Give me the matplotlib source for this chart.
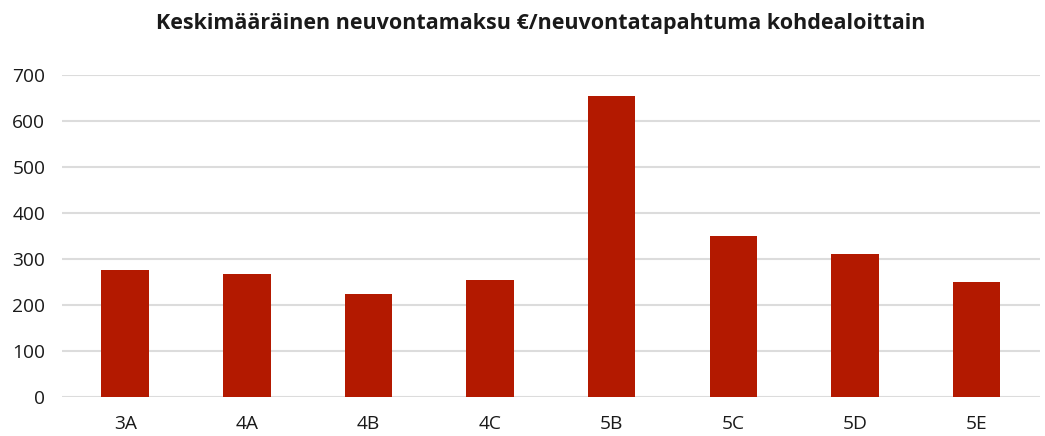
import matplotlib.pyplot as plt

# Data
categories = ["3A", "4A", "4B", "4C", "5B", "5C", "5D", "5E"]
fees = [276, 268, 225, 255, 654, 350, 311, 250]
yticks = [0, 100, 200, 300, 400, 500, 600, 700]
title = "Keskimääräinen neuvontamaksu €/neuvontatapahtuma kohdealoittain"

plt.rcParams['font.family'] = ['Open Sans', 'DejaVu Sans']

fig = plt.figure(figsize=(10.45, 4.36), dpi=100)
ax = fig.add_axes([0.0593, 0.0894, 0.9357, 0.7386])

x = range(len(categories))
ax.bar(x, fees, width=0.39, color='#B31900', zorder=3)

ax.set_xlim(-0.52, len(categories) - 0.48)
ax.set_ylim(0, 700)
ax.set_yticks(yticks)
ax.set_xticks(list(x))
ax.set_xticklabels(categories)
ax.grid(axis='y', color='#dcdcdc', linewidth=1.5, zorder=0)
for s in ax.spines.values():
    s.set_visible(False)
ax.tick_params(length=0, labelsize=13.8, colors='#1a1a1a')
ax.tick_params(axis='x', pad=13)
ax.tick_params(axis='y', pad=12)

fig.text(0.517, 0.947, title, ha='center', va='center', fontsize=15.5,
         fontweight='bold', color='#1a1a1a')

fig.savefig("out.png", dpi=100)
